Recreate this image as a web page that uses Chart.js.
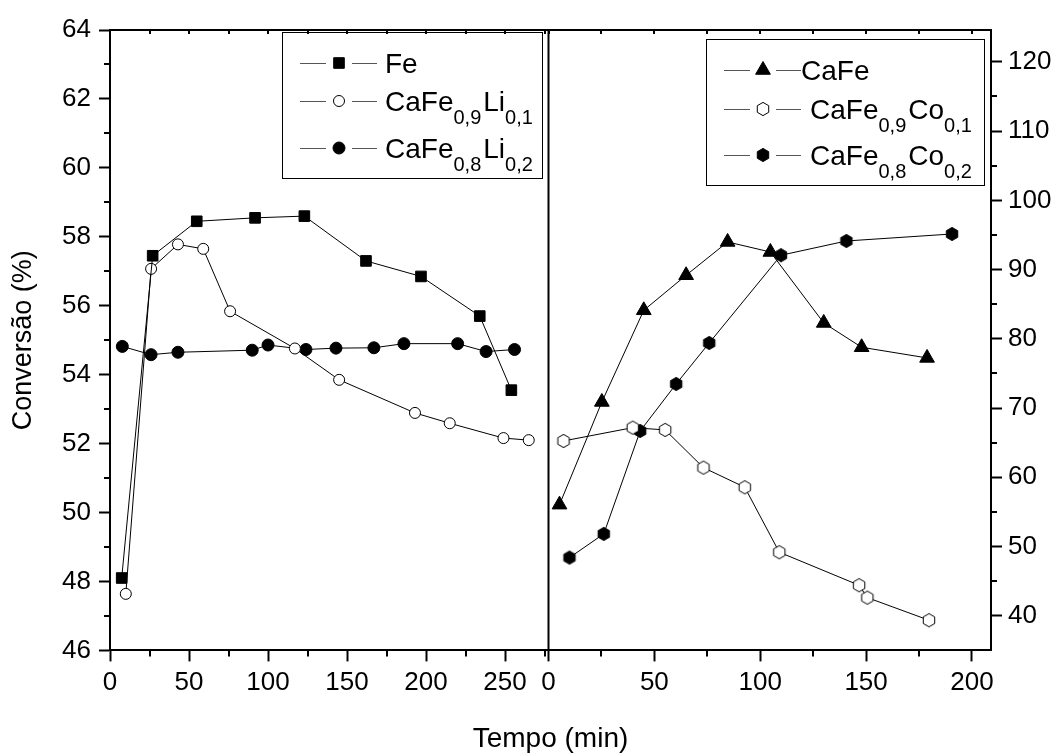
<!DOCTYPE html>
<html>
<head>
<meta charset="utf-8">
<script src="https://cdn.jsdelivr.net/npm/chart.js@4/dist/chart.umd.min.js"></script>
<style>
  html, body { margin: 0; padding: 0; background: #fff; }
  canvas { display: block; }
</style>
</head>
<body>
<canvas id="myChart" width="1059" height="756"></canvas>
<script>
// left panel (left axis, %)
let feTime = [7.4, 27, 54.9, 91.8, 123, 162, 196.8, 234, 254];
let feConv = [48.1, 57.45, 58.45, 58.55, 58.6, 57.3, 56.85, 55.7, 53.55];
let li01Time = [10, 26, 43, 59, 76, 117, 145, 193, 215, 249, 265];
let li01Conv = [47.64, 57.07, 57.78, 57.65, 55.84, 54.76, 53.85, 52.89, 52.59, 52.16, 52.1];
let li02Time = [7.8, 26, 43, 90, 100, 124, 143, 167, 186, 220, 238, 256];
let li02Conv = [54.82, 54.58, 54.65, 54.71, 54.86, 54.73, 54.77, 54.78, 54.9, 54.9, 54.67, 54.73];

// right panel (right axis)
let caFeTime = [5.2, 25.2, 45, 65, 84.6, 104.8, 130, 147.9, 178.8];
let caFeConv = [56.05, 70.88, 84.12, 89.18, 93.99, 92.54, 82.29, 78.78, 77.24];
let co01Time = [7.1, 39.8, 55.1, 73.2, 92.7, 109, 146.7, 150.6, 179.7];
let co01Conv = [65.25, 67.17, 66.84, 61.39, 58.56, 49.18, 44.41, 42.62, 39.36];
let co02Time = [9.9, 26.1, 43.3, 60.3, 75.9, 109.8, 140.7, 190.6];
let co02Conv = [48.4, 51.82, 66.69, 73.48, 79.4, 92.07, 94.13, 95.14];

// legend names: normal text, subscript, normal text, subscript
let seriesNames = [
    ['Fe'],
    ['CaFe', '0,9', 'Li', '0,1'],
    ['CaFe', '0,8', 'Li', '0,2'],
    ['CaFe'],
    ['CaFe', '0,9', 'Co', '0,1'],
    ['CaFe', '0,8', 'Co', '0,2']
];

let leftConvTicks = [46, 48, 50, 52, 54, 56, 58, 60, 62, 64];
let rightConvTicks = [40, 50, 60, 70, 80, 90, 100, 110, 120];
let leftTimeTicks = [0, 50, 100, 150, 200, 250];
let rightTimeTicks = [0, 50, 100, 150, 200];

const FONT = 'Liberation Sans, Arial, sans-serif';
Chart.defaults.font.family = FONT;
Chart.defaults.color = '#000';

function hexMarker(fill) {
    let c = document.createElement('canvas');
    c.width = 16;
    c.height = 16;
    let g = c.getContext('2d');
    g.beginPath();
    for (let i = 0; i < 6; i++) {
        let a = Math.PI / 3 * i - Math.PI / 2;
        let px = 8 + 6.6 * Math.cos(a), py = 8 + 6.6 * Math.sin(a);
        if (i === 0) g.moveTo(px, py); else g.lineTo(px, py);
    }
    g.closePath();
    g.fillStyle = fill;
    g.fill();
    g.lineWidth = 1;
    g.strokeStyle = '#000';
    g.stroke();
    return c;
}

function toPoints(xs, ys) {
    return xs.map((x, i) => ({x: x, y: ys[i]}));
}

function series(idx, xs, ys, xAxis, yAxis, style, radius, fill) {
    return {
        label: seriesNames[idx].join(''),
        data: toPoints(xs, ys),
        xAxisID: xAxis,
        yAxisID: yAxis,
        borderColor: '#000',
        borderWidth: 1,
        pointStyle: style,
        pointRadius: radius,
        pointHoverRadius: radius,
        pointBackgroundColor: fill,
        pointBorderColor: '#000',
        pointBorderWidth: 1,
        tension: 0,
        fill: false
    };
}

// minor ticks, top mirror ticks, frame top and the panel divider
const frameTicks = {
    id: 'frameTicks',
    afterDraw(chart) {
        let {ctx, chartArea: a, scales} = chart;
        ctx.save();
        ctx.strokeStyle = '#000';
        ctx.lineWidth = 2;
        ctx.beginPath();
        ctx.moveTo(a.left, a.top);
        ctx.lineTo(a.right, a.top);
        let div = scales.xL.right;
        ctx.moveTo(div, a.top);
        ctx.lineTo(div, a.bottom);
        ['xL', 'xR'].forEach(id => {
            let s = scales[id];
            for (let v = 0; v <= s.max; v += 25) {
                let px = Math.round(s.getPixelForValue(v));
                if (v % 50) {
                    ctx.moveTo(px, a.bottom);
                    ctx.lineTo(px, a.bottom + 6);
                }
                ctx.moveTo(px, a.top);
                ctx.lineTo(px, a.top + 4);
            }
        });
        for (let v = 47; v < 64; v += 2) {
            let py = Math.round(scales.yL.getPixelForValue(v));
            ctx.moveTo(a.left - 6, py);
            ctx.lineTo(a.left, py);
        }
        for (let v = 45; v < scales.yR.max; v += 10) {
            let py = Math.round(scales.yR.getPixelForValue(v));
            ctx.moveTo(a.right, py);
            ctx.lineTo(a.right + 6, py);
        }
        ctx.stroke();
        ctx.restore();
    }
};

// legend boxes with subscripts
const subLegend = {
    id: 'subLegend',
    afterDraw(chart, args, opts) {
        let ctx = chart.ctx;
        ctx.save();
        opts.boxes.forEach(b => {
            ctx.lineWidth = 1;
            ctx.strokeStyle = '#000';
            ctx.strokeRect(b.x + 0.5, b.y + 0.5, b.w, b.h);
            b.items.forEach((di, k) => {
                let ds = chart.data.datasets[di];
                let y = b.y + b.rows[k];
                ctx.strokeStyle = '#555';
                ctx.lineWidth = 1;
                ctx.beginPath();
                ctx.moveTo(b.x + 18, y + 0.5);
                ctx.lineTo(b.x + 44, y + 0.5);
                ctx.moveTo(b.x + 70, y + 0.5);
                ctx.lineTo(b.x + 95, y + 0.5);
                ctx.stroke();
                ctx.fillStyle = ds.pointBackgroundColor;
                ctx.strokeStyle = '#000';
                Chart.helpers.drawPoint(ctx, {
                    pointStyle: ds.pointStyle, radius: ds.pointRadius, rotation: 0, borderWidth: 1
                }, b.x + 57, y);
                let x = b.x + b.textX[k];
                ctx.fillStyle = '#000';
                ctx.textAlign = 'left';
                ctx.textBaseline = 'alphabetic';
                seriesNames[di].forEach((part, p) => {
                    let sub = p % 2 === 1;
                    ctx.font = (sub ? '20px ' : '28px ') + FONT;
                    ctx.fillText(part, x, y + 10 + (sub ? 13 : 0));
                    x += ctx.measureText(part).width + (sub ? 2 : 0);
                });
            });
        });
        ctx.restore();
    }
};

function axisLines(extra) {
    return Object.assign({
        type: 'linear',
        grid: {drawOnChartArea: false, tickLength: 11, tickWidth: 2, tickColor: '#000'},
        border: {color: '#000', width: 2}
    }, extra);
}

let ctx = document.getElementById('myChart').getContext('2d');
let myChart = new Chart(ctx, {
    type: 'line',
    data: {
        datasets: [
            series(0, feTime, feConv, 'xL', 'yL', 'rect', 7.5, '#000'),
            series(1, li01Time, li01Conv, 'xL', 'yL', 'circle', 5.5, '#fff'),
            series(2, li02Time, li02Conv, 'xL', 'yL', 'circle', 6, '#000'),
            series(3, caFeTime, caFeConv, 'xR', 'yR', 'triangle', 8.5, '#000'),
            series(4, co01Time, co01Conv, 'xR', 'yR', hexMarker('#fff'), 6.6, '#fff'),
            series(5, co02Time, co02Conv, 'xR', 'yR', hexMarker('#000'), 6.6, '#000')
        ]
    },
    options: {
        responsive: false,
        animation: false,
        layout: {padding: {top: 30, left: 0, right: 0, bottom: 0}},
        plugins: {
            legend: {display: false},
            tooltip: {enabled: false},
            title: {
                display: true,
                text: 'Tempo (min)',
                position: 'bottom',
                fullSize: false,
                color: '#000',
                font: {size: 28, weight: 'normal'},
                padding: {top: 16, bottom: 0}
            },
            subLegend: {
                boxes: [
                    {x: 282, y: 32, w: 260, h: 146, items: [0, 1, 2], rows: [31, 69, 116], textX: [103, 103, 103]},
                    {x: 706, y: 39, w: 278, h: 146, items: [3, 4, 5], rows: [31, 70, 116], textX: [95, 104, 104]}
                ]
            }
        },
        scales: {
            xL: axisLines({
                position: 'bottom', stack: 'time', stackWeight: 438.5,
                min: 0, max: 277.5,
                afterBuildTicks: s => { s.ticks = leftTimeTicks.map(v => ({value: v})); },
                afterFit: s => { s.height = 56; },
                ticks: {padding: 6, font: {size: 26}, autoSkip: false, maxRotation: 0}
            }),
            xR: axisLines({
                position: 'bottom', stack: 'time', stackWeight: 442.5,
                min: 0, max: 209,
                afterBuildTicks: s => { s.ticks = rightTimeTicks.map(v => ({value: v})); },
                afterFit: s => { s.height = 56; },
                ticks: {padding: 6, font: {size: 26}, autoSkip: false, maxRotation: 0}
            }),
            yL: axisLines({
                position: 'left',
                min: 46, max: 64,
                afterBuildTicks: s => { s.ticks = leftConvTicks.map(v => ({value: v})); },
                afterFit: s => { s.width = 110; },
                title: {display: true, text: 'Conversão (%)', font: {size: 27}, padding: {top: 7, bottom: 0}},
                ticks: {padding: 8, font: {size: 26}}
            }),
            yR: axisLines({
                position: 'right',
                min: 35, max: 124.6,
                afterBuildTicks: s => { s.ticks = rightConvTicks.map(v => ({value: v})); },
                afterFit: s => { s.width = 68; },
                ticks: {padding: 6, font: {size: 26}}
            })
        }
    },
    plugins: [frameTicks, subLegend]
});
</script>
</body>
</html>
